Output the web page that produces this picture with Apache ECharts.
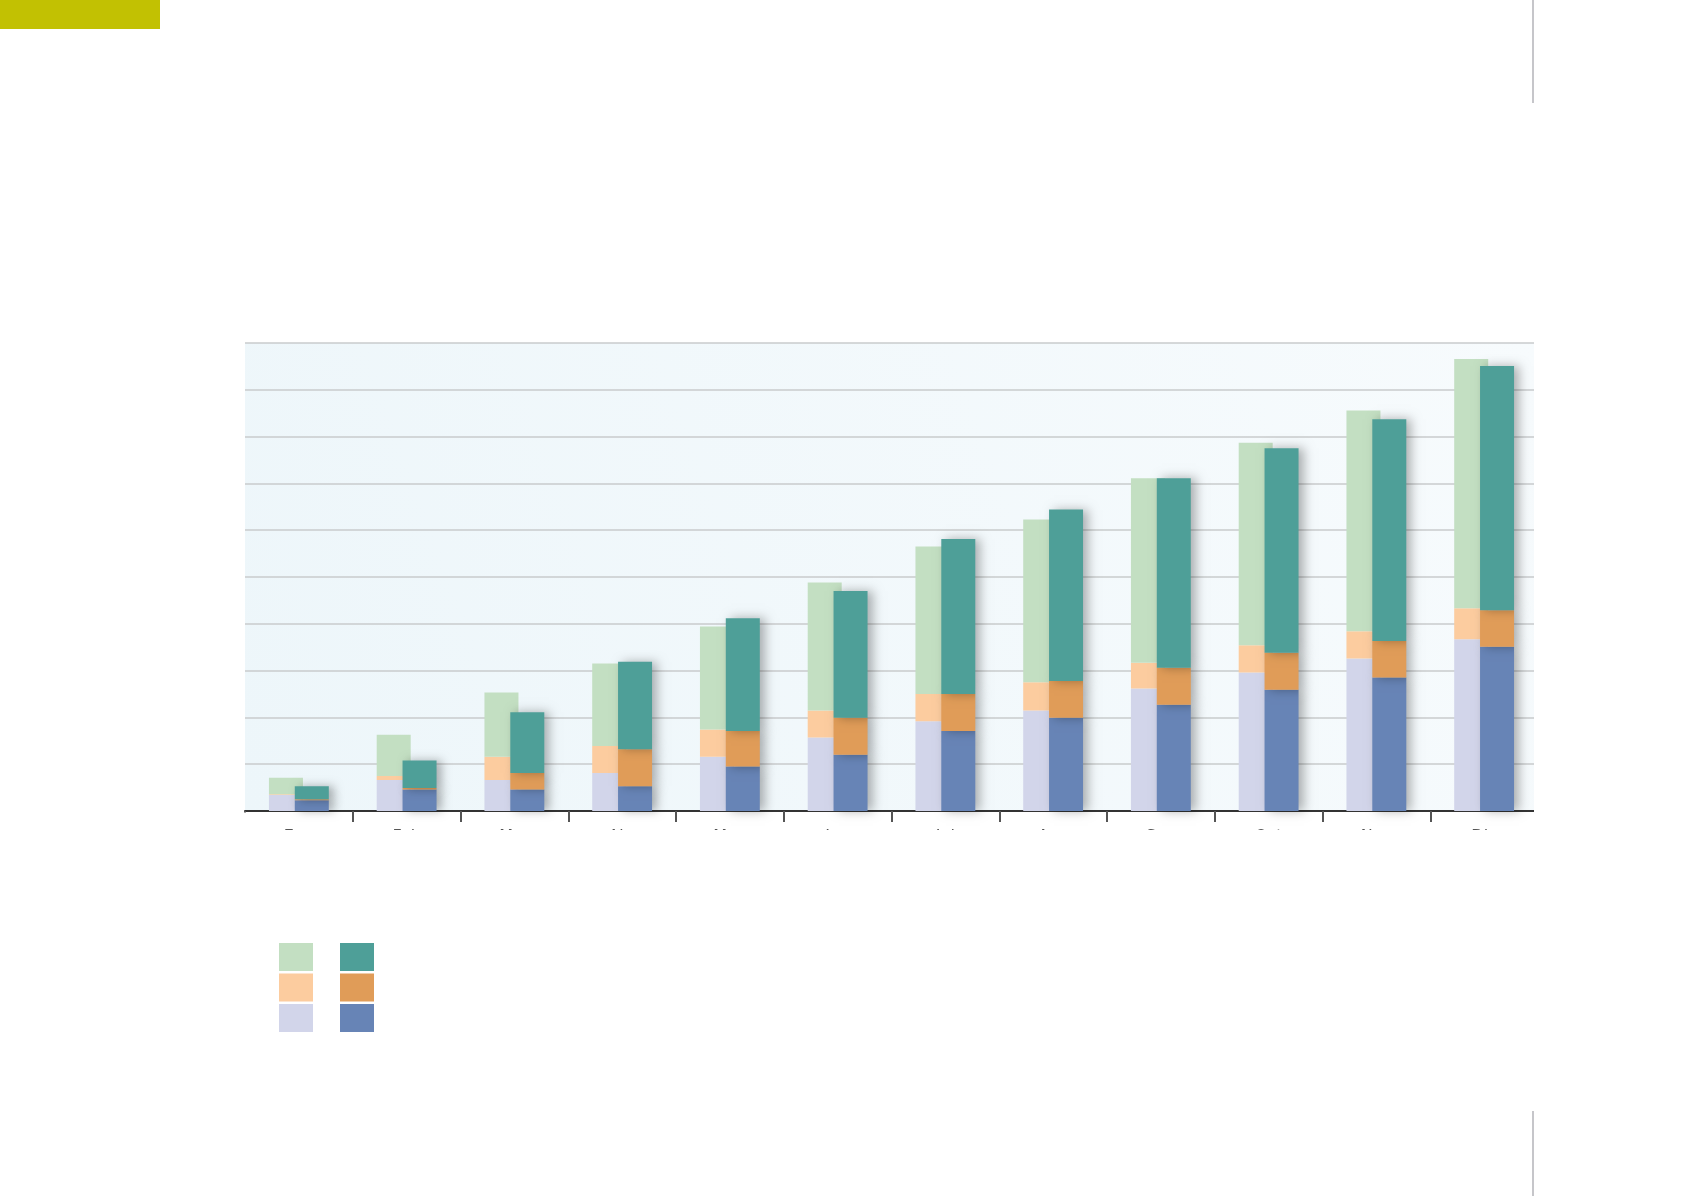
<!DOCTYPE html>
<html>
<head>
<meta charset="utf-8">
<script src="https://cdn.jsdelivr.net/npm/echarts@6/dist/echarts.min.js"></script>
<style>
html,body{margin:0;padding:0;background:#fff;}
#chart{width:1692px;height:1196px;}
</style>
</head>
<body>
<div id="chart"></div>
<script>
const categories = ['Ene','Feb','Mar','Abr','May','Jun','Jul','Ago','Sep','Oct','Nov','Dic'];
// Left (light) stacked bar
const seriesA_bottom = [3.4, 6.6, 6.6, 8.1, 11.6, 15.7, 19.2, 21.5, 26.2, 29.6, 32.6, 36.7];
const seriesA_middle = [0.2, 0.9, 5.0, 5.8, 5.8, 5.8, 5.8, 6.0, 5.5, 5.8, 5.8, 6.6];
const seriesA_top    = [3.5, 8.8, 13.7, 17.6, 22.0, 27.3, 31.5, 34.8, 39.4, 43.3, 47.2, 53.3];
// Right (dark) stacked bar
const seriesB_bottom = [2.3, 4.6, 4.6, 5.3, 9.5, 12.0, 17.1, 19.9, 22.7, 25.9, 28.5, 35.1];
const seriesB_middle = [0.2, 0.3, 3.5, 7.9, 7.6, 7.9, 7.9, 7.9, 7.9, 7.9, 7.8, 7.8];
const seriesB_top    = [2.8, 5.9, 13.0, 18.7, 24.1, 27.1, 33.1, 36.6, 40.5, 43.7, 47.4, 52.2];
const yTicks = [0, 10, 20, 30, 40, 50, 60, 70, 80, 90, 100];

const chart = echarts.init(document.getElementById('chart'));
const darkStyle = (c) => ({color: c, shadowColor: 'rgba(0,0,0,0.3)', shadowBlur: 10, shadowOffsetX: 5});
const lightStyle = (c) => ({color: c});

const mk = (name, stack, data, style) => ({
  name, type: 'bar', stack, data, barWidth: 34, barGap: '-24%',
  itemStyle: style, emphasis: {disabled: true}
});

chart.setOption({
  animation: false,
  grid: {
    left: 245, right: 1692 - 1538, top: 343, bottom: 1196 - 811,
    show: true, borderWidth: 0,
    backgroundColor: new echarts.graphic.LinearGradient(0, 1, 1, 0, [
      {offset: 0, color: '#edf6fa'}, {offset: 1, color: '#f7fbfd'}
    ])
  },
  xAxis: {
    type: 'category', data: categories,
    axisLine: {lineStyle: {color: '#333', width: 2}},
    axisTick: {show: true, length: 11, lineStyle: {color: '#555', width: 2}},
    axisLabel: {color: '#555', fontSize: 16, margin: 18, fontFamily: 'DejaVu Sans'}
  },
  yAxis: {
    type: 'value', min: yTicks[0], max: yTicks[yTicks.length - 1], interval: 10,
    axisLabel: {show: false}, axisLine: {show: false}, axisTick: {show: false},
    splitLine: {lineStyle: {color: '#c9cbcd', width: 1.5}}
  },
  legend: [
    {
      orient: 'vertical', left: 279, top: 943, padding: 0, itemGap: 2.5,
      itemWidth: 34, itemHeight: 28, selectedMode: false, icon: 'rect',
      formatter: () => '', textStyle: {fontSize: 1},
      data: ['A3', 'A2', 'A1']
    },
    {
      orient: 'vertical', left: 340, top: 943, padding: 0, itemGap: 2.5,
      itemWidth: 34, itemHeight: 28, selectedMode: false, icon: 'rect',
      formatter: () => '', textStyle: {fontSize: 1},
      data: ['B3', 'B2', 'B1']
    }
  ],
  graphic: [
    {type: 'rect', left: 0, top: 0, shape: {width: 160, height: 29}, style: {fill: '#c2c102'}, z: 100},
    {type: 'rect', left: 0, top: 830, shape: {width: 1692, height: 60}, style: {fill: '#ffffff'}, z: 100},
    {type: 'rect', left: 1534, top: 335, shape: {width: 14, height: 495}, style: {fill: '#ffffff'}, z: 100},
    {type: 'rect', left: 241, top: 812.5, shape: {width: 6, height: 14}, style: {fill: '#ffffff'}, z: 100},
    {type: 'rect', left: 1532, top: 0, shape: {width: 2, height: 103}, style: {fill: '#c6c6ca'}, z: 101},
    {type: 'rect', left: 1532, top: 1111, shape: {width: 2, height: 85}, style: {fill: '#c6c6ca'}, z: 101}
  ],
  series: [
    mk('A1', 'A', seriesA_bottom, lightStyle('#d2d5ea')),
    mk('A2', 'A', seriesA_middle, lightStyle('#fccc9f')),
    mk('A3', 'A', seriesA_top, lightStyle('#c3dfc2')),
    mk('B1', 'B', seriesB_bottom, darkStyle('#6784b6')),
    mk('B2', 'B', seriesB_middle, darkStyle('#e09c58')),
    mk('B3', 'B', seriesB_top, darkStyle('#4e9f98'))
  ]
});
</script>
</body>
</html>
